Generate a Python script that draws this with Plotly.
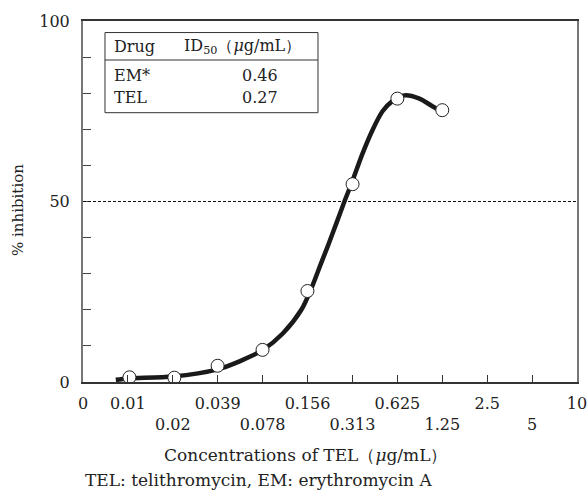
import math
import plotly.graph_objects as go

# Tick labels on the doubling-dilution concentration axis (µg/mL)
tick_labels = ["0", "0.01", "0.02", "0.039", "0.078", "0.156", "0.313",
               "0.625", "1.25", "2.5", "5", "10"]

# Measured points: concentration of TEL (µg/mL) vs % inhibition
point_conc = [0.01, 0.02, 0.039, 0.078, 0.156, 0.313, 0.625, 1.25]
point_inh = [1.3, 1.2, 4.5, 8.9, 25.2, 54.8, 78.5, 75.3]

# Fitted curve
curve_conc = [0.0081, 0.0098, 0.0195, 0.039, 0.0552, 0.078, 0.107, 0.142,
              0.166, 0.193, 0.213, 0.244, 0.276, 0.308, 0.366, 0.427,
              0.497, 0.579, 0.698, 0.878, 1.073, 1.19]
curve_inh = [0.6, 1.0, 1.5, 3.5, 5.8, 8.8, 13.5, 20.0, 26.0, 33.0, 37.5,
             44.0, 50.0, 55.0, 63.4, 69.9, 75.0, 77.8, 79.4, 78.5,
             76.4, 75.3]

# Table of ID50 values
table_drugs = ["EM*", "TEL"]
table_id50 = ["0.46", "0.27"]


def to_pos(c):
    # doubling dilution steps: 10 µg/mL is step 11, "0" sits at step 0
    return 11 + math.log2(c / 10)


tick_pos = list(range(len(tick_labels)))
# labels 0.02, 0.078, ... go on a second row
tick_text = [("<br>" + t) if (i >= 2 and i % 2 == 0) else t
             for i, t in enumerate(tick_labels)]

FONT = "DejaVu Serif"
DARK = "#222222"

fig = go.Figure()
fig.add_trace(go.Scatter(
    x=[to_pos(c) for c in curve_conc], y=curve_inh, mode="lines",
    line=dict(color="#1a1a1a", width=4.5, shape="spline", smoothing=0.8),
    hoverinfo="skip"))
fig.add_trace(go.Scatter(
    x=[to_pos(c) for c in point_conc], y=point_inh, mode="markers",
    marker=dict(size=13, color="white", line=dict(color=DARK, width=1))))

# dashed 50% line
fig.add_shape(type="line", xref="paper", yref="y", x0=0, x1=1, y0=50, y1=50,
              line=dict(color="#111", width=1, dash="3px,2px"))

# table box
tx0, tx1 = 0.0445, 0.4757
ty0, ty1 = 0.746, 0.968
fig.add_shape(type="rect", xref="paper", yref="paper", x0=tx0, x1=tx1,
              y0=ty0, y1=ty1, line=dict(color="#333", width=1),
              fillcolor="white")
fig.add_shape(type="line", xref="paper", yref="paper", x0=tx0, x1=tx1,
              y0=0.892, y1=0.892, line=dict(color="#333", width=1))

ann = []
ann.append(dict(text="Drug", x=0.0587, y=0.928, xanchor="left", size=16))
ann.append(dict(text="ID<sub>50</sub>（<i>μ</i>g/mL）", x=0.200, y=0.928,
                xanchor="left", size=16))
for i, (d, v) in enumerate(zip(table_drugs, table_id50)):
    yy = 0.848 - i * 0.061
    ann.append(dict(text=d, x=0.0587, y=yy, xanchor="left", size=16))
    ann.append(dict(text=v, x=0.3583, y=yy, xanchor="center", size=16))
ann.append(dict(text="Concentrations of TEL（<i>μ</i>g/mL）", x=0.4494,
                y=-0.202, xanchor="center", size=17))
ann.append(dict(text="TEL: telithromycin, EM: erythromycin A", x=0.0,
                y=-0.272, xanchor="left", size=17))
ann.append(dict(text="% inhibition", x=-0.1316, y=0.4765, xanchor="center",
                textangle=-90, size=15))
for a in ann:
    sz = a.pop("size")
    a.update(xref="paper", yref="paper", showarrow=False,
             yanchor="middle", font=dict(family=FONT, size=sz, color=DARK))
    fig.add_annotation(**a)

fig.update_xaxes(
    range=[0, 11], tickvals=tick_pos, ticktext=tick_text, tickangle=0,
    ticks="inside", ticklen=7, tickcolor="#333", tickwidth=1,
    showline=True, linecolor="#333", linewidth=1.5, mirror=True,
    showgrid=False, zeroline=False, ticklabelstandoff=6, automargin=False,
    tickfont=dict(family=FONT, size=16, color=DARK))
fig.update_yaxes(
    range=[0, 100], tickvals=[0, 50, 100],
    ticks="inside", ticklen=8, tickcolor="#444", tickwidth=1,
    minor=dict(dtick=10, ticks="inside", ticklen=8, tickcolor="#444"),
    showline=True, linecolor="#777", linewidth=2, mirror=True,
    showgrid=False, zeroline=False, ticklabelstandoff=8, automargin=False,
    tickfont=dict(family=FONT, size=16, color=DARK))

fig.update_layout(
    width=588, height=491, margin=dict(l=83, r=11, t=21, b=109),
    plot_bgcolor="white", paper_bgcolor="white", showlegend=False,
    font=dict(family=FONT, size=15, color=DARK))

fig.write_html("out.html")
